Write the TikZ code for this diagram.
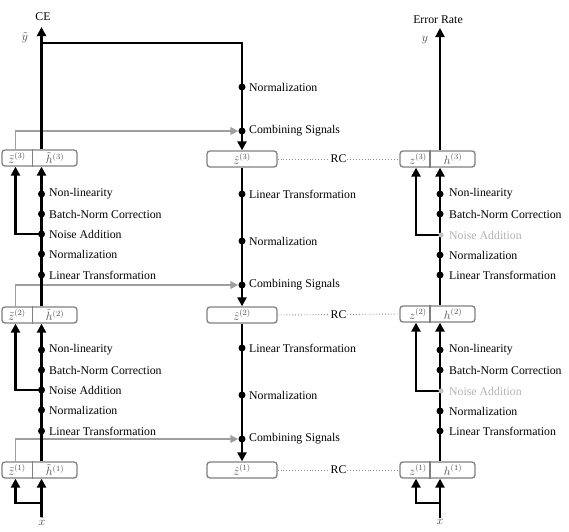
\documentclass[tikz,border=0pt]{standalone}
\usepackage{fontspec}
\setmainfont{Liberation Serif}
\usetikzlibrary{arrows.meta,backgrounds}
\begin{document}
\begin{tikzpicture}[x=1pt,y=-1pt,
  blk/.style={line width=2.4pt, draw=black},
  arr/.style={-{Triangle[length=9pt,width=9pt]}},
  gry/.style={line width=1.7pt, draw=black!38, -{Triangle[length=8pt,width=7.5pt]}},
  box/.style={draw=black!50, line width=1.3pt, rounded corners=3pt, fill=white, minimum height=16pt, inner sep=0pt},
  divl/.style={draw=black!50, line width=1.1pt},
  dot/.style={circle, fill=black, inner sep=0pt, minimum size=7pt},
  ldot/.style={circle, fill=black!25, inner sep=0pt, minimum size=5pt},
  lab/.style={anchor=west, inner sep=0pt, font=\fontsize{11.8}{13}\selectfont},
  btxt/.style={inner sep=0pt, text=black!70, font=\fontsize{12}{14}\selectfont},
  mlab/.style={inner sep=1pt, text=black!75, font=\fontsize{12.5}{14}\selectfont},
  rc/.style={dotted, draw=black!45, line width=0.9pt}]
\useasboundingbox (0,0) rectangle (569,531);
% helper coordinates
\coordinate (zc) at (15.5,0);
\coordinate (hc) at (41.5,0);
\coordinate (mc) at (242,0);
\coordinate (rz) at (416,0);
\coordinate (rh) at (440,0);
\coordinate (ld) at (32.5,0);
\coordinate (rd) at (430,0);
% boxes
\node[box, minimum width=75pt] (L3) at (39.5,158) {};
\node[box, minimum width=75pt] (L2) at (39.5,315) {};
\node[box, minimum width=75pt] (L1) at (39.5,470) {};
\node[box, minimum width=70pt] (M3) at (242,159) {};
\node[box, minimum width=70pt] (M2) at (242,315) {};
\node[box, minimum width=70pt] (M1) at (242,470) {};
\node[box, minimum width=75pt] (R3) at (437.5,159) {};
\node[box, minimum width=75pt] (R2) at (437.5,314) {};
\node[box, minimum width=75pt] (R1) at (437.5,470) {};
\foreach \b in {L3,L2,L1} \draw[divl] (ld |- \b.north) -- (ld |- \b.south);
\foreach \b in {R3,R2,R1} \draw[divl] (rd |- \b.north) -- (rd |- \b.south);
% box texts
\node[btxt] (L3z) at (17,158) {$\tilde{z}^{(3)}$};
\node[btxt] (L3h) at (55,158) {$\tilde{h}^{(3)}$};
\node[btxt] (L2z) at (17,315) {$\tilde{z}^{(2)}$};
\node[btxt] (L2h) at (55,315) {$\tilde{h}^{(2)}$};
\node[btxt] (L1z) at (17,470) {$\tilde{z}^{(1)}$};
\node[btxt] (L1h) at (55,470) {$\tilde{h}^{(1)}$};
\node[btxt] (M3t) at (242,159) {$\hat{z}^{(3)}$};
\node[btxt] (M2t) at (242,315) {$\hat{z}^{(2)}$};
\node[btxt] (M1t) at (242,470) {$\hat{z}^{(1)}$};
\node[btxt] (R3z) at (418,159) {$z^{(3)}$};
\node[btxt] (R3h) at (453,159) {$h^{(3)}$};
\node[btxt] (R2z) at (418,314) {$z^{(2)}$};
\node[btxt] (R2h) at (453,314) {$h^{(2)}$};
\node[btxt] (R1z) at (418,470) {$z^{(1)}$};
\node[btxt] (R1h) at (453,470) {$h^{(1)}$};
% top / bottom labels
\node[lab, anchor=center] (CE) at (43,17) {CE};
\node[mlab] (yt) at (25,38) {$\tilde{y}$};
\node[lab, anchor=center] (ER) at (438,20) {Error Rate};
\node[mlab] (yy) at (425,40) {$y$};
\node[mlab] (xt) at (42,522) {$\tilde{x}$};
\node[mlab] (xx) at (440,522) {$x$};
\coordinate (ltop) at (41.5,27);
\coordinate (lbr) at (41.5,43);
\coordinate (rtop) at (440,28);
\coordinate (lb1) at (41.5,503);
\coordinate (rb1) at (440,503);
% left and right dots and labels
\foreach \n/\y in {3/0,2/156}{
  \node[dot] (LN\n) at (41.5,194+\y) {};
  \node[dot] (LB\n) at (41.5,214+\y) {};
  \node[dot] (LA\n) at (41.5,234+\y) {};
  \node[dot] (LO\n) at (41.5,254+\y) {};
  \node[dot] (LT\n) at (41.5,275+\y) {};
  \node[lab] at (49,194+\y) {Non-linearity};
  \node[lab] at (49,214+\y) {Batch-Norm Correction};
  \node[lab] at (49,234+\y) {Noise Addition};
  \node[lab] at (49,254+\y) {Normalization};
  \node[lab] at (49,275+\y) {Linear Transformation};
  \node[dot] (RN\n) at (440,194+\y) {};
  \node[dot] (RB\n) at (440,214+\y) {};
  \node[ldot] (RA\n) at (441,235+\y) {};
  \node[dot] (RO\n) at (440,255+\y) {};
  \node[dot] (RT\n) at (440,275+\y) {};
  \node[lab] at (449,194+\y) {Non-linearity};
  \node[lab] at (449,214+\y) {Batch-Norm Correction};
  \node[lab, text=black!30] at (449,235+\y) {Noise Addition};
  \node[lab] at (449,255+\y) {Normalization};
  \node[lab] at (449,275+\y) {Linear Transformation};
}
% middle dots and labels
\node[dot] (MN4) at (242,87) {};
\node[dot] (MC3) at (242,131) {};
\node[dot] (ML2) at (242,194) {};
\node[dot] (MN2) at (242,241) {};
\node[dot] (MC2) at (242,285) {};
\node[dot] (ML1) at (242,348) {};
\node[dot] (MN1) at (242,395) {};
\node[dot] (MC1) at (242,439) {};
\node[lab] at (249,87) {Normalization};
\node[lab] at (249,131) {Combining Signals};
\node[lab] at (249,194) {Linear Transformation};
\node[lab] at (249,241) {Normalization};
\node[lab] at (249,285) {Combining Signals};
\node[lab] at (249,348) {Linear Transformation};
\node[lab] at (249,395) {Normalization};
\node[lab] at (249,439) {Combining Signals};
% connectors
\begin{scope}[on background layer]
  % gray lateral arrows
  \draw[gry] (zc |- L3.north) |- (MC3);
  \draw[gry] (zc |- L2.north) |- (MC2);
  \draw[gry] (zc |- L1.north) |- (MC1);
  % RC dotted lines
  \draw[rc] (M3.east) -- node[lab, anchor=center, fill=white, inner sep=1pt] {RC} (R3.west);
  \draw[rc] (M2.east) -- node[lab, anchor=center, fill=white, inner sep=1pt] {RC} (R2.west);
  \draw[rc] (M1.east) -- node[lab, anchor=center, fill=white, inner sep=1pt] {RC} (R1.west);
  % left column
  \draw[blk,arr] (hc |- L3.north) -- (ltop);
  \draw[blk,arr] (lbr) -| (M3.north);
  \draw[blk,arr] (hc |- L2.north) -- (hc |- L3.south);
  \draw[blk,arr] (LA3.center) -| (zc |- L3.south);
  \draw[blk,arr] (hc |- L1.north) -- (hc |- L2.south);
  \draw[blk,arr] (LA2.center) -| (zc |- L2.south);
  \draw[blk,arr] (hc |- xt.north) -- (hc |- L1.south);
  \draw[blk,arr] (lb1) -| (zc |- L1.south);
  % middle column
  \draw[blk,arr] (M3.south) -- (M2.north);
  \draw[blk,arr] (M2.south) -- (M1.north);
  % right column
  \draw[blk,arr] (rh |- R3.north) -- (rtop);
  \draw[blk,arr] (rh |- R2.north) -- (rh |- R3.south);
  \draw[blk,arr] (RA3.center) -| (rz |- R3.south);
  \draw[blk,arr] (rh |- R1.north) -- (rh |- R2.south);
  \draw[blk,arr] (RA2.center) -| (rz |- R2.south);
  \draw[blk,arr] (xx.north) -- (rh |- R1.south);
  \draw[blk,arr] (rb1) -| (rz |- R1.south);
\end{scope}
\end{tikzpicture}
\end{document}
